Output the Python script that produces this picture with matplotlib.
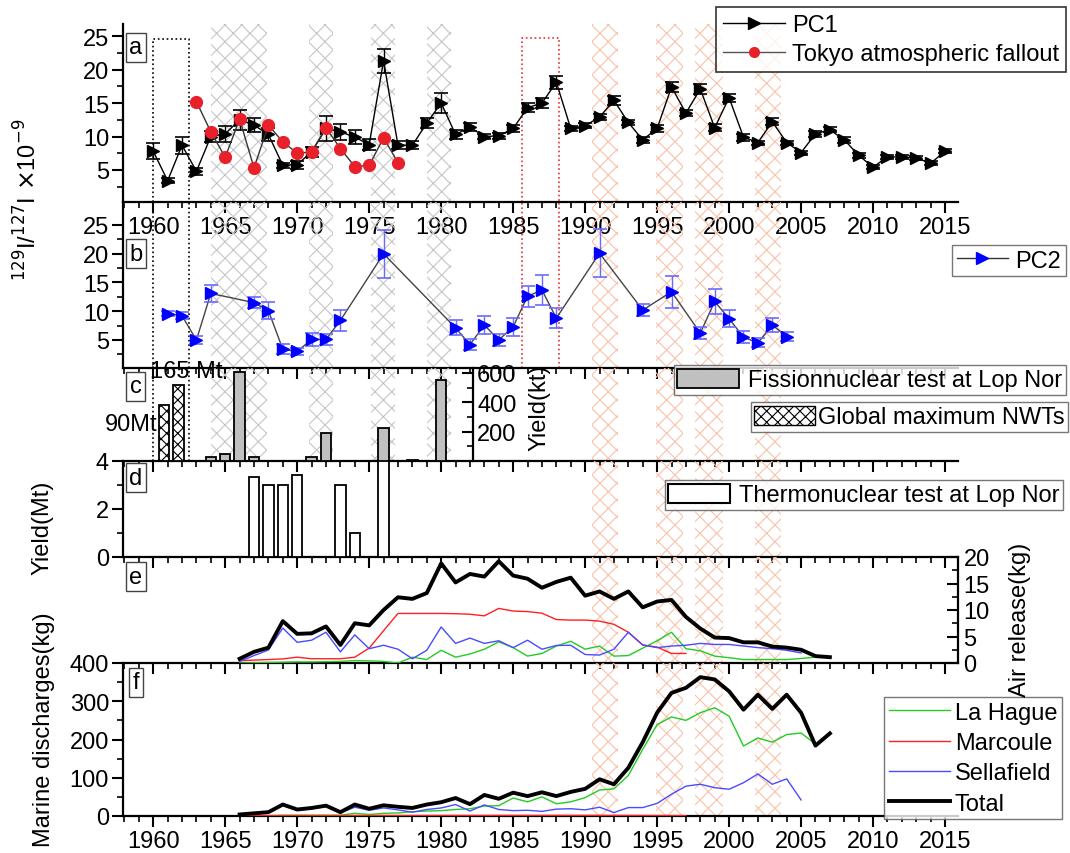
import matplotlib
matplotlib.use('Agg')
import matplotlib.pyplot as plt
from matplotlib.ticker import MultipleLocator, FixedLocator
from matplotlib.patches import Patch
from matplotlib.lines import Line2D

plt.rcParams['font.family'] = ['Liberation Sans', 'DejaVu Sans']
plt.rcParams['hatch.linewidth'] = 0.8
FS = 17

# ---------------- data ----------------
pc1_years = list(range(1960, 2016))
pc1_vals = [7.8, 3.4, 8.7, 4.8, 10.0, 10.4, 12.5, 11.7, 10.3, 5.7, 5.8, 7.7, 11.2, 10.7, 9.9, 8.8,
            21.3, 8.7, 8.7, 12.0, 15.0, 10.3, 11.4, 10.0, 10.1, 11.2, 14.3, 15.0, 18.1, 11.2, 11.6,
            12.9, 15.4, 12.1, 9.5, 11.2, 17.4, 13.5, 17.1, 11.3, 15.8, 9.9, 9.1, 12.2, 9.1, 7.6,
            10.4, 11.0, 9.5, 7.2, 5.4, 7.0, 6.9, 6.8, 6.0, 7.8]
pc1_err = [1.2, 0.4, 1.3, 0.5, 0.8, 1.2, 1.5, 1.0, 1.0, 0.4, 0.6, 0.8, 1.8, 1.2, 1.0, 0.8,
           1.8, 0.6, 0.6, 0.8, 1.5, 0.7, 0.6, 0.4, 0.4, 0.5, 0.7, 0.8, 1.0, 0.4, 0.4,
           0.4, 0.7, 0.4, 0.4, 0.5, 0.8, 0.5, 0.7, 0.5, 0.6, 0.5, 0.3, 0.5, 0.3, 0.3,
           0.4, 0.4, 0.4, 0.4, 0.3, 0.3, 0.3, 0.3, 0.3, 0.3]

tokyo_years = list(range(1963, 1978))
tokyo_vals = [15.2, 10.7, 6.9, 12.6, 5.3, 11.7, 9.2, 7.5, 7.7, 11.3, 8.2, 5.5, 5.7, 9.8, 6.1]

pc2_years = [1961, 1962, 1963, 1964, 1967, 1968, 1969, 1970, 1971, 1972, 1973, 1976, 1981, 1982,
             1983, 1984, 1985, 1986, 1987, 1988, 1991, 1994, 1996, 1998, 1999, 2000, 2001, 2002,
             2003, 2004]
pc2_vals = [9.6, 9.2, 5.0, 13.1, 11.5, 10.1, 3.4, 3.0, 5.1, 5.1, 8.4, 20.0, 7.1, 4.2, 7.6, 5.0,
            7.3, 12.6, 13.7, 8.8, 20.1, 10.2, 13.4, 6.2, 11.7, 8.7, 5.5, 4.5, 7.6, 5.6]
pc2_err = [0.5, 0.6, 0.7, 1.5, 0.9, 1.5, 0.9, 0.6, 1.2, 1.0, 1.8, 4.2, 1.3, 0.9, 1.5, 1.0,
           1.6, 1.8, 2.6, 1.8, 4.2, 1.0, 2.8, 1.1, 2.1, 1.5, 1.0, 0.8, 1.2, 0.8]

fission_years = [1964, 1965, 1966, 1967, 1971, 1972, 1976, 1978, 1980]
fission_kt = [25, 45, 605, 25, 25, 190, 225, 10, 550]

nwt_years = [1961, 1962]
nwt_heights = [380, 520]
nwt_labels = ['90Mt', '165 Mt']

thermo_years = [1967, 1968, 1969, 1970, 1973, 1974, 1976]
thermo_mt = [3.33, 3.0, 3.0, 3.4, 3.0, 1.0, 4.0]

air_years = list(range(1966, 2008))
air_total = [0.8, 2.1, 2.9, 7.9, 5.5, 5.6, 6.9, 3.4, 7.5, 7.1, 10.0, 12.4, 12.1, 13.2, 18.8, 15.2,
             16.8, 16.3, 19.2, 16.5, 15.9, 14.2, 15.3, 16.1, 12.7, 13.5, 12.1, 13.5, 10.5, 11.6,
             11.9, 8.7, 6.5, 4.8, 4.7, 3.9, 3.9, 3.1, 2.9, 2.5, 1.3, 1.1]
air_marc_years = list(range(1966, 1998))
air_marc = [0.45, 0.55, 0.65, 0.77, 1.1, 0.8, 0.8, 0.8, 1.1, 2.8, 6.1, 9.35, 9.35, 9.35, 9.35,
            9.3, 9.2, 8.9, 10.3, 9.8, 9.7, 9.4, 8.2, 8.1, 8.1, 7.9, 7.3, 5.8, 3.4, 3.0, 1.8, 1.8]
air_sell_years = list(range(1966, 2006))
air_sell = [0.3, 1.4, 2.45, 6.6, 3.9, 4.3, 5.8, 2.1, 5.3, 2.7, 3.35, 2.6, 0.8, 2.4, 6.8, 3.7,
            4.7, 3.7, 4.2, 2.9, 4.3, 2.6, 3.3, 3.35, 1.6, 1.5, 2.6, 5.8, 3.4, 2.9, 3.2, 3.35,
            3.7, 3.5, 3.5, 3.2, 2.9, 2.7, 2.4, 1.9]
air_lah_years = list(range(1966, 2007))
air_lah = [0.0, 0.05, 0.1, 0.15, 0.2, 0.2, 0.25, 0.3, 0.45, 0.4, 0.3, 0.0, 1.1, 0.65, 2.4, 1.1,
           1.7, 2.6, 4.0, 2.9, 1.3, 1.8, 3.2, 4.1, 2.6, 3.2, 1.3, 1.4, 2.8, 4.2, 5.8, 2.7, 2.3,
           1.3, 1.0, 0.65, 0.65, 0.65, 0.65, 0.85, 1.1]

mar_years = list(range(1966, 2008))
mar_total = [4, 7, 10, 30, 17, 21, 27, 10, 30, 19, 28, 24, 21, 30, 36, 47, 31, 55, 45, 61, 52,
             62, 52, 63, 71, 96, 83, 126, 193, 270, 322, 335, 363, 357, 326, 278, 317, 280, 317,
             270, 184, 216]
mar_lah_years = list(range(1966, 2007))
mar_lah = [0, 1, 1, 2, 2, 2, 2, 2, 7, 4, 7, 8, 11, 13, 14, 17, 19, 26, 27, 47, 37, 50, 32, 37,
           48, 68, 71, 106, 174, 239, 259, 250, 270, 283, 261, 183, 204, 193, 213, 217, 188]
mar_sell_years = list(range(1966, 2006))
mar_sell = [4, 6, 9, 28, 15, 19, 25, 8, 23, 15, 21, 16, 10, 17, 21, 30, 13, 29, 17, 14, 15, 12,
            18, 19, 16, 23, 9, 22, 22, 33, 57, 78, 83, 74, 70, 87, 110, 83, 97, 42]
mar_marc_years = list(range(1966, 1998))
mar_marc = [0.5, 0.6, 0.8, 0.9, 1.0, 1.0, 1.1, 1.0, 1.2, 1.2, 1.3, 1.3, 1.2, 1.3, 1.4, 1.4, 1.3,
            1.4, 1.5, 1.5, 1.4, 1.5, 1.6, 1.5, 1.6, 1.5, 1.4, 1.4, 1.3, 1.2, 1.1, 1.0]

gray_spans = [(1964.0, 1967.9), (1970.8, 1972.5), (1975.1, 1976.8), (1979.0, 1980.7)]
orange_spans = [(1990.5, 1992.3), (1994.9, 1996.8), (1997.6, 1999.6), (2001.8, 2003.6)]

# ---------------- layout ----------------
W, H = 1070, 854
fig = plt.figure(figsize=(W / 100, H / 100), dpi=100)


def box(l, t, r, b):
    return [l / W, 1 - b / H, (r - l) / W, (b - t) / H]


XL, XR = 123, 958
XLIM = (1957.9, 2015.9)
ax_a = fig.add_axes(box(XL, 25, XR, 203))
ax_b = fig.add_axes(box(XL, 203, XR, 369))
ax_c = fig.add_axes(box(XL, 369, XR, 462))
ax_d = fig.add_axes(box(XL, 462, XR, 558))
ax_e = fig.add_axes(box(XL, 558, XR, 664))
ax_f = fig.add_axes(box(XL, 664, XR, 817))
axes = [ax_a, ax_b, ax_c, ax_d, ax_e, ax_f]

GRAY_H = '#c6c6c6'
ORANGE_H = '#f7c3aa'

for ax in axes:
    ax.set_facecolor('none')
    ax.set_xlim(*XLIM)
    for s in ['top', 'right', 'left']:
        ax.spines[s].set_visible(False)
    ax.spines['bottom'].set_linewidth(1.6)
    ax.xaxis.set_major_locator(MultipleLocator(5))
    ax.xaxis.set_minor_locator(MultipleLocator(1))
    ax.tick_params(axis='x', which='major', direction='out', length=8, width=1.5,
                   labelsize=FS, labelbottom=False, pad=2)
    ax.tick_params(axis='x', which='minor', direction='out', length=4, width=1.2)
    for x0, x1 in orange_spans:
        ax.axvspan(x0, x1, facecolor='none', edgecolor=ORANGE_H, hatch='xx', lw=0, zorder=0)

for ax in [ax_a, ax_b, ax_c]:
    for x0, x1 in gray_spans:
        ax.axvspan(x0, x1, facecolor='none', edgecolor=GRAY_H, hatch='xx', lw=0, zorder=0)

for ax in [ax_a, ax_b, ax_d, ax_f]:
    ax.spines['left'].set_visible(True)
    ax.spines['left'].set_linewidth(1.6)
    ax.tick_params(axis='y', which='major', direction='out', length=8, width=1.5, labelsize=FS, pad=2)
    ax.tick_params(axis='y', which='minor', direction='out', length=4, width=1.2)

LBOX = dict(boxstyle='square,pad=0.15', fc='white', ec='#444444', lw=1)

# ---- panel a ----
ax_a.set_ylim(0.22, 26.8)
ax_a.yaxis.set_major_locator(FixedLocator([5, 10, 15, 20, 25]))
ax_a.yaxis.set_minor_locator(FixedLocator([2.5, 7.5, 12.5, 17.5, 22.5]))
ax_a.tick_params(axis='x', labelbottom=True)
ax_a.errorbar(pc1_years, pc1_vals, yerr=pc1_err, fmt='>-', color='black', ms=8.5, lw=1,
              elinewidth=1, capsize=5, capthick=1.2, zorder=3)
ax_a.plot(tokyo_years, tokyo_vals, '-o', color='#333333', lw=1, ms=8.5, mfc='#e8202a',
          mec='#e8202a', zorder=4)
ax_a.plot([1960, 1960, 1962.5, 1962.5], [0.22, 24.6, 24.6, 0.22], color='black', ls=':', lw=1.2, zorder=2)
ax_a.plot([1985.6, 1985.6, 1988.2, 1988.2], [0.22, 24.7, 24.7, 0.22], color='#e83030', ls=':', lw=1.2, zorder=2)
ax_a.text(1958.8, 23.3, 'a', fontsize=FS, ha='center', va='center', bbox=LBOX)

leg_a = ax_a.legend(handles=[
    Line2D([], [], color='black', marker='>', ms=8.5, lw=1),
    Line2D([], [], color='#555555', marker='o', ms=7, mfc='#e8202a', mec='#e8202a', lw=1)],
    labels=['PC1', 'Tokyo atmospheric fallout'], loc='upper right',
    bbox_to_anchor=(1066 / W, 1 - 8 / H), bbox_transform=fig.transFigure, fontsize=FS,
    frameon=True, fancybox=False, edgecolor='black', borderpad=0.3, labelspacing=0.3,
    handlelength=2.6, handletextpad=0.3, borderaxespad=0)
leg_a.get_frame().set_linewidth(1.2)

# ---- panel b ----
ax_b.set_ylim(0.13, 29.0)
ax_b.yaxis.set_major_locator(FixedLocator([5, 10, 15, 20, 25]))
ax_b.yaxis.set_minor_locator(FixedLocator([2.5, 7.5, 12.5, 17.5, 22.5]))
ax_b.plot(pc2_years, pc2_vals, '-', color='#444444', lw=1, zorder=3)
ax_b.errorbar(pc2_years, pc2_vals, yerr=pc2_err, fmt='>', color='#0000ff', ecolor='#6a6aff',
              ms=8.5, elinewidth=1, capsize=5, capthick=1.2, zorder=4)
ax_b.axvline(1960, color='black', ls=':', lw=1.2, zorder=2)
ax_b.axvline(1962.5, color='black', ls=':', lw=1.2, zorder=2)
ax_b.axvline(1985.6, color='#e83030', ls=':', lw=1.2, zorder=2)
ax_b.axvline(1988.2, color='#e83030', ls=':', lw=1.2, zorder=2)
ax_b.text(1958.8, 20.0, 'b', fontsize=FS, ha='center', va='center', bbox=LBOX)
ax_b.legend(handles=[Line2D([], [], color='#333333', marker='>', ms=8.5, lw=1,
                            mfc='#0000ff', mec='#0000ff')],
            labels=['PC2'], loc='upper right', bbox_to_anchor=(1066 / W, 1 - 246 / H),
            bbox_transform=fig.transFigure, fontsize=FS, frameon=True, fancybox=False,
            edgecolor='#555555', borderpad=0.2, handlelength=2.2, handletextpad=0.3,
            borderaxespad=0)

# ---- panel c ----
ax_c.set_ylim(0, 634)
ax_c.spines['right'].set_visible(True)
ax_c.spines['right'].set_position(('data', 1982.2))
ax_c.spines['right'].set_linewidth(1.6)
ax_c.yaxis.tick_right()
ax_c.yaxis.set_major_locator(FixedLocator([200, 400, 600]))
ax_c.yaxis.set_minor_locator(FixedLocator([100, 300, 500]))
ax_c.tick_params(axis='y', which='major', direction='in', length=8, width=1.5, labelsize=FS, pad=3)
ax_c.tick_params(axis='y', which='minor', direction='in', length=4, width=1.2)
ax_c.bar(fission_years, fission_kt, width=0.72, color='#c0c0c0', edgecolor='black', lw=1.3, zorder=3)
nwt_x = [y - 0.25 for y in nwt_years]
ax_c.bar(nwt_x, nwt_heights, width=0.72, color='white', edgecolor='black', lw=1.3,
         hatch='xxx', zorder=3)
ax_c.text(1960.3, 255, nwt_labels[0], fontsize=FS, ha='right', va='center')
ax_c.text(1962.3, 612, nwt_labels[1], fontsize=FS, ha='center', va='center')
ax_c.axvline(1960, color='black', ls=':', lw=1.2, zorder=2)
ax_c.axvline(1962.5, color='black', ls=':', lw=1.2, zorder=2)
ax_c.text(1958.8, 510, 'c', fontsize=FS, ha='center', va='center', bbox=LBOX)
fig.text(540 / W, 1 - 408 / H, 'Yield(kt)', rotation=90, fontsize=FS, ha='center', va='center')
leg_c1 = ax_c.legend(handles=[Patch(facecolor='#c0c0c0', edgecolor='black', lw=1.3)],
                     labels=['Fissionnuclear test at Lop Nor'], loc='upper right',
                     bbox_to_anchor=(1066 / W, 1 - 366 / H), bbox_transform=fig.transFigure,
                     fontsize=FS, frameon=True, fancybox=False, edgecolor='#555555',
                     borderpad=0.15, handlelength=2.6, handleheight=0.9, handletextpad=0.4,
                     borderaxespad=0)
ax_c.add_artist(leg_c1)
ax_c.legend(handles=[Patch(facecolor='white', edgecolor='black', lw=1, hatch='xxx')],
            labels=['Global maximum NWTs'], loc='upper right',
            bbox_to_anchor=(1068 / W, 1 - 403 / H), bbox_transform=fig.transFigure,
            fontsize=FS, frameon=True, fancybox=False, edgecolor='#555555',
            borderpad=0.15, handlelength=2.6, handleheight=0.9, handletextpad=0.1,
            borderaxespad=0)

# ---- panel d ----
ax_d.set_ylim(0, 4)
ax_d.yaxis.set_major_locator(FixedLocator([0, 2, 4]))
ax_d.yaxis.set_minor_locator(FixedLocator([1, 3]))
ax_d.bar(thermo_years, thermo_mt, width=0.72, color='white', edgecolor='black', lw=1.3, zorder=3)
ax_d.text(1958.8, 3.3, 'd', fontsize=FS, ha='center', va='center', bbox=LBOX)
fig.text(42 / W, 1 - 528 / H, 'Yield(Mt)', rotation=90, fontsize=FS, ha='center', va='center')
ax_d.legend(handles=[Patch(facecolor='white', edgecolor='black', lw=1.5)],
            labels=['Thermonuclear test at Lop Nor'], loc='upper right',
            bbox_to_anchor=(1063 / W, 1 - 481 / H), bbox_transform=fig.transFigure,
            fontsize=FS, frameon=True, fancybox=False, edgecolor='#555555',
            borderpad=0.15, handlelength=2.6, handleheight=0.9, handletextpad=0.4,
            borderaxespad=0)

# ---- panel e ----
ax_e.set_ylim(0, 20)
ax_e.spines['right'].set_visible(True)
ax_e.spines['right'].set_linewidth(1.6)
ax_e.yaxis.tick_right()
ax_e.yaxis.set_major_locator(FixedLocator([0, 5, 10, 15, 20]))
ax_e.yaxis.set_minor_locator(FixedLocator([2.5, 7.5, 12.5, 17.5]))
ax_e.tick_params(axis='y', which='major', direction='in', length=8, width=1.5, labelsize=FS, pad=4)
ax_e.tick_params(axis='y', which='minor', direction='in', length=4, width=1.2)
ax_e.plot(air_lah_years, air_lah, color='#22cc22', lw=1, zorder=3)
ax_e.plot(air_marc_years, air_marc, color='#ff2020', lw=1, zorder=3)
ax_e.plot(air_sell_years, air_sell, color='#4a4aff', lw=1, zorder=3)
ax_e.plot(air_years, air_total, color='black', lw=2.8, zorder=4)
ax_e.text(1958.8, 16.3, 'e', fontsize=FS, ha='center', va='center', bbox=LBOX)
fig.text(1020 / W, 1 - 620 / H, 'Air release(kg)', rotation=90, fontsize=FS, ha='center', va='center')

# ---- panel f ----
ax_f.set_ylim(0, 400)
ax_f.yaxis.set_major_locator(FixedLocator([0, 100, 200, 300, 400]))
ax_f.yaxis.set_minor_locator(FixedLocator([50, 150, 250, 350]))
ax_f.tick_params(axis='x', labelbottom=True)
l1, = ax_f.plot(mar_lah_years, mar_lah, color='#22cc22', lw=1, zorder=3)
l2, = ax_f.plot(mar_marc_years, mar_marc, color='#ff2020', lw=1, zorder=3)
l3, = ax_f.plot(mar_sell_years, mar_sell, color='#4a4aff', lw=1, zorder=3)
l4, = ax_f.plot(mar_years, mar_total, color='black', lw=2.8, zorder=4)
ax_f.text(1958.8, 350, 'f', fontsize=FS, ha='center', va='center', bbox=LBOX)
fig.text(44 / W, 1 - 730 / H, 'Marine discharges(kg)', rotation=90, fontsize=FS,
         ha='center', va='center')
ax_f.legend(handles=[l1, l2, l3, l4], labels=['La Hague', 'Marcoule', 'Sellafield', 'Total'],
            loc='upper right', bbox_to_anchor=(1062 / W, 1 - 698 / H),
            bbox_transform=fig.transFigure, fontsize=FS, frameon=True, fancybox=False,
            edgecolor='#555555', borderpad=0.2, labelspacing=0.35, handlelength=2.6,
            handletextpad=0.2, borderaxespad=0)

fig.text(28 / W, 1 - 200 / H, r'$^{129}$I/$^{127}$I $\times$10$^{-9}$', rotation=90,
         fontsize=FS, ha='center', va='center')

fig.savefig('out.png', dpi=100)
